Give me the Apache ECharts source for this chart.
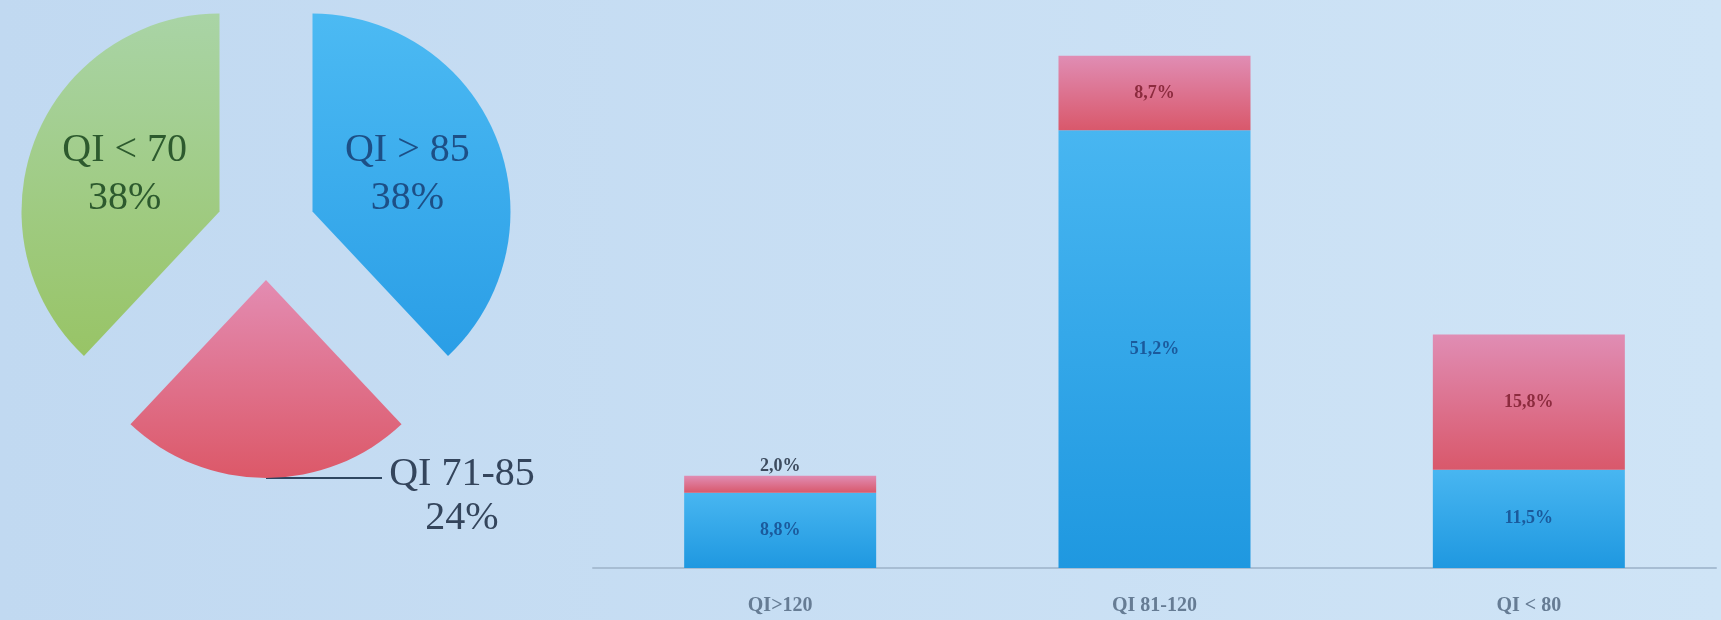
<!DOCTYPE html>
<html><head><meta charset="utf-8">
<script src="https://cdn.jsdelivr.net/npm/echarts@6/dist/echarts.min.js"></script>
<style>html,body{margin:0;padding:0;}#c{width:1721px;height:620px;}</style>
</head><body><div id="c"></div>
<script>
// Pie data (clockwise from 12 o'clock)
const pieNames = ['QI > 85', 'QI 71-85', 'QI < 70'];
const pieValues = [38, 24, 38];
// Bar data
const barCategories = ['QI>120', 'QI 81-120', 'QI < 80'];
const blueValues = [8.8, 51.2, 11.5];
const redValues = [2.0, 8.7, 15.8];

const fmt = v => v.toFixed(1).replace('.', ',') + '%';
const serif = '"Liberation Serif", "DejaVu Serif", serif';

function vgrad(top, bottom) {
  return new echarts.graphic.LinearGradient(0, 0, 0, 1, [{offset: 0, color: top}, {offset: 1, color: bottom}]);
}
const pieColors = [vgrad('#4cbaf3', '#2a9ee6'), vgrad('#e38cb2', '#dc5868'), vgrad('#a9d4a6', '#98c466')];
const pieLabelColors = ['#1d4f86', '#34455c', '#2d5a2e'];

const chart = echarts.init(document.getElementById('c'));
chart.setOption({
  backgroundColor: new echarts.graphic.LinearGradient(0, 0, 1, 0, [{offset: 0, color: '#c1d9f1'}, {offset: 1, color: '#cfe4f6'}]),
  animation: false,
  grid: {left: 593, right: 5, top: 55, bottom: 52},
  xAxis: {
    type: 'category', data: barCategories,
    axisLine: {lineStyle: {color: '#a7bdd3', width: 2}},
    axisTick: {show: false},
    axisLabel: {margin: 28, color: '#667c94', fontFamily: serif, fontSize: 20, fontWeight: 'bold'}
  },
  yAxis: {type: 'value', min: 0, max: 60, show: false, splitLine: {show: false}},
  series: [
    {
      type: 'pie', center: [266, 230], radius: 198,
      startAngle: 90, clockwise: true,
      selectedMode: 'multiple', selectedOffset: 50,
      emphasis: {disabled: true},
      data: pieNames.map((n, i) => ({
        name: n, value: pieValues[i], selected: true,
        itemStyle: {color: pieColors[i]},
        label: i === 1 ? {
          position: 'outside', overflow: 'none',
          formatter: p => '{a|' + p.name + '}\n{a|' + p.value + '%}',
          rich: {a: {width: 160, align: 'center', color: pieLabelColors[i], fontFamily: serif, fontSize: 40, lineHeight: 44}}
        } : {
          position: 'inside', color: pieLabelColors[i], fontFamily: serif, fontSize: 40, lineHeight: 48
        },
        labelLine: i === 1 ? {show: true, length: 0.01, length2: 118, lineStyle: {color: '#2e4660', width: 2}} : {show: false}
      })),
      label: {formatter: p => p.name + '\n' + p.value + '%'},
      labelLayout: function (params) {
        if (params.dataIndex !== 1 || !params.labelLinePoints) return {};
        const p0 = params.labelLinePoints[0];
        const end = [p0[0] + 116, p0[1]];
        const r = params.labelRect;
        const targetCx = end[0] + 80;
        const targetTop = p0[1] - 24;
        return {
          dx: targetCx - (r.x + r.width / 2),
          dy: targetTop - r.y,
          labelLinePoints: [p0, [p0[0] + 58, p0[1]], end]
        };
      }
    },
    {
      type: 'bar', stack: 's', barWidth: 192,
      data: blueValues,
      itemStyle: {color: vgrad('#48b6f1', '#1f98e0')},
      label: {show: true, position: 'inside', formatter: p => fmt(p.value), color: '#1b5a9c', fontFamily: serif, fontSize: 18, fontWeight: 'bold'}
    },
    {
      type: 'bar', stack: 's', barWidth: 192,
      data: redValues.map((v, i) => i === 0 ? {value: v, label: {position: 'top', distance: 0, color: '#3d4b5e'}} : v),
      itemStyle: {color: vgrad('#e08db4', '#d9586b')},
      label: {show: true, position: 'inside', formatter: p => fmt(p.value), color: '#8c2b3e', fontFamily: serif, fontSize: 18, fontWeight: 'bold'}
    }
  ]
});
</script></body></html>
